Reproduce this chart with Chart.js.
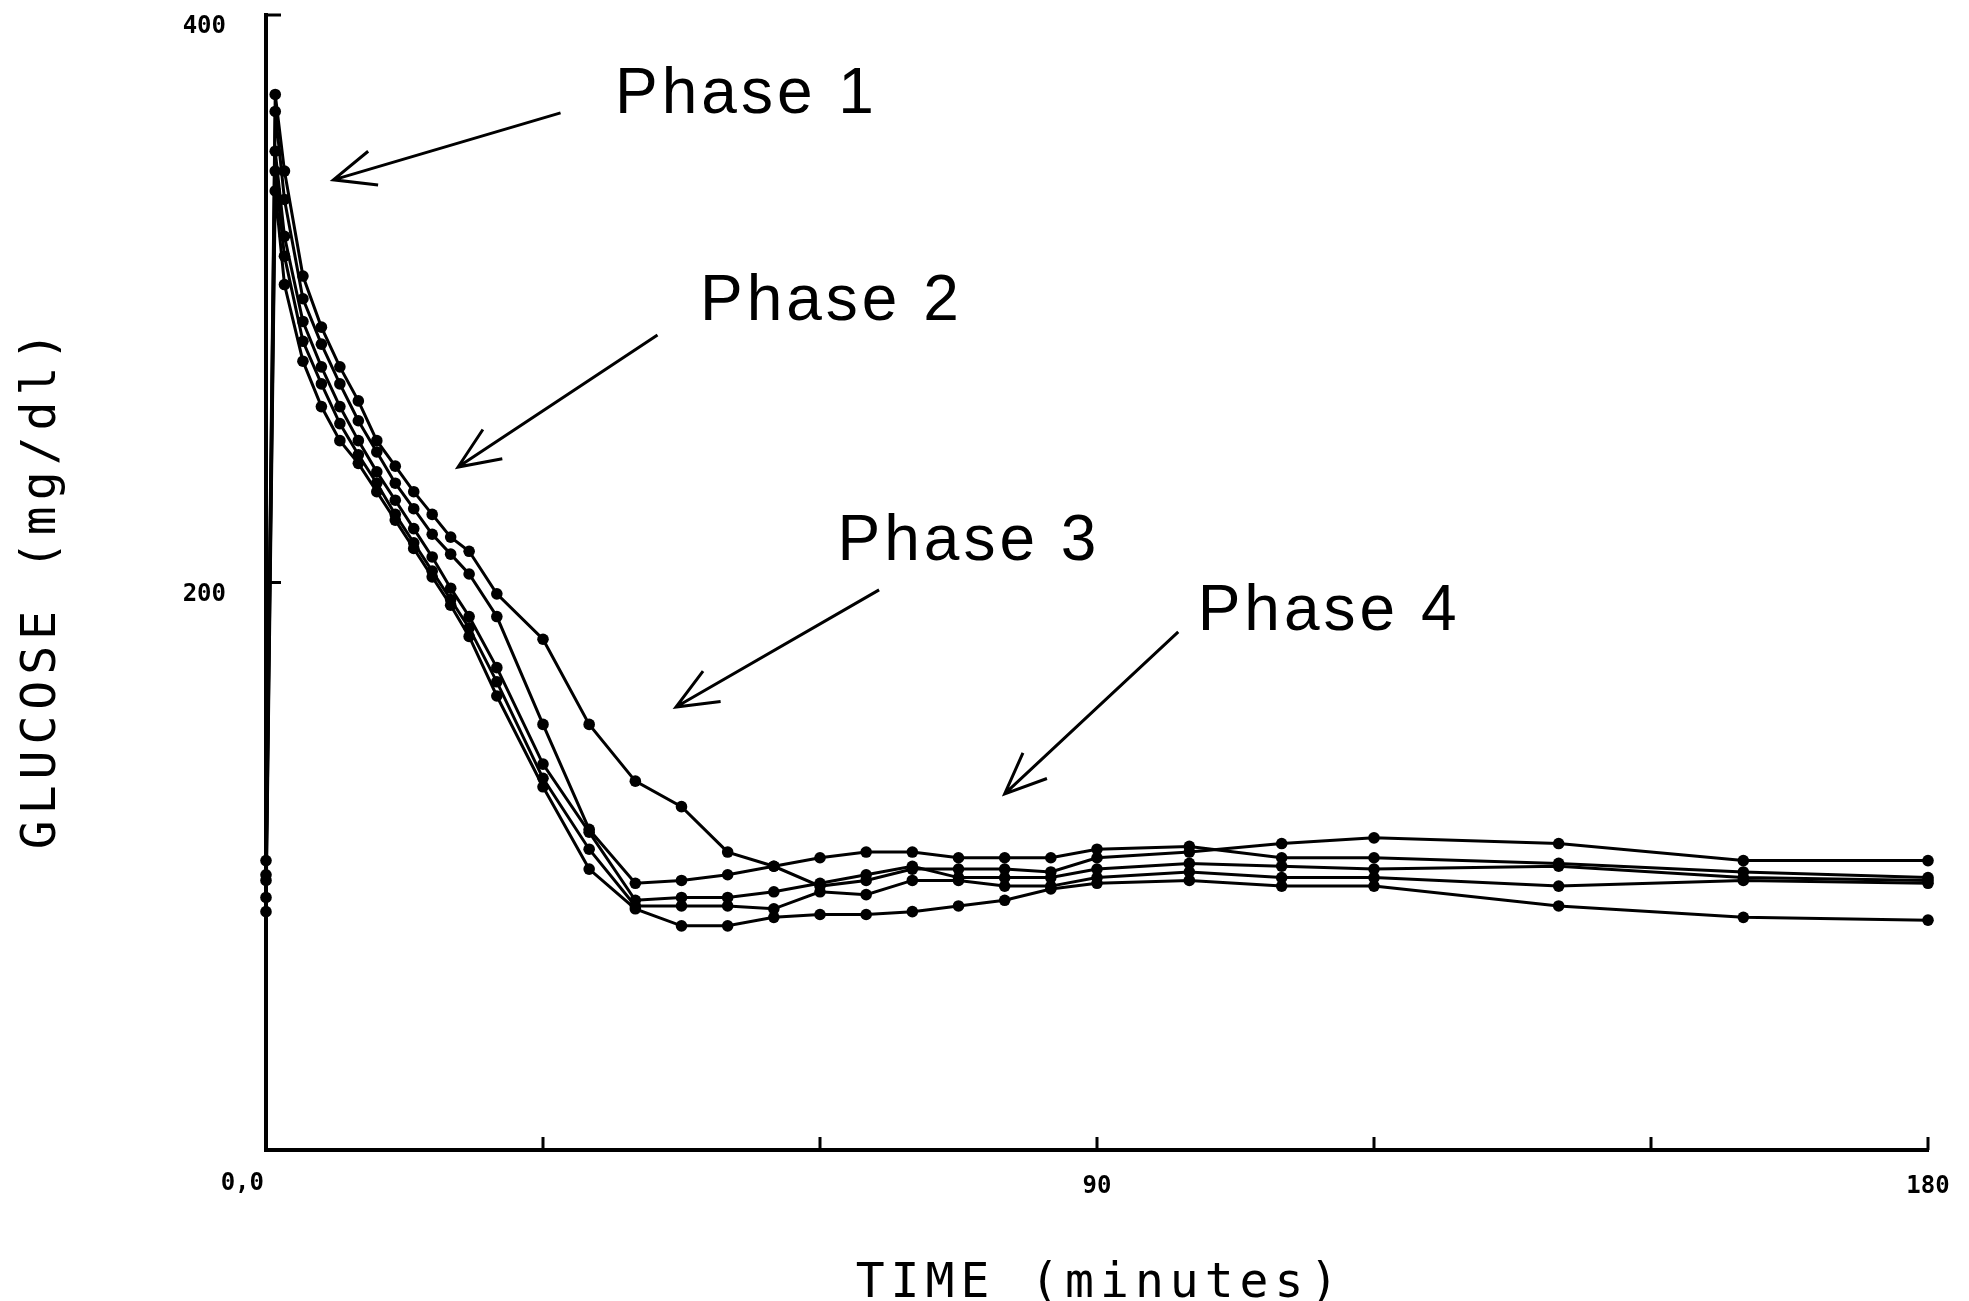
<!DOCTYPE html>
<html>
<head>
<meta charset="utf-8">
<title>Glucose phases</title>
<script src="https://cdn.jsdelivr.net/npm/chart.js@4.4.1/dist/chart.umd.min.js"></script>
<style>
    html, body { margin: 0; padding: 0; background: #fff; }
    #glucose-chart { display: block; }
</style>
</head>
<body>
<canvas id="glucose-chart" width="1969" height="1301"></canvas>
<script>
// sampling times (minutes)
const times = [0, 1, 2, 4, 6, 8, 10, 12, 14, 16, 18, 20, 22,
    25, 30, 35, 40, 45, 50, 55, 60, 65, 70, 75, 80, 85, 90,
    100, 110, 120, 140, 160, 180];

// glucose (mg/dl), one curve per run
const subject1 = [102, 372, 345, 308, 290, 276, 264, 250, 241, 232, 224, 216, 211,
    196, 180, 150, 130, 121, 105, 100, 93, 95, 99, 99, 99, 98, 103,
    105, 108, 110, 108, 102, 102];
const subject2 = [97, 366, 335, 300, 284, 270, 257, 246, 235, 226, 217, 210, 203,
    188, 150, 113, 94, 95, 97, 100, 103, 105, 105, 103, 103, 103, 106,
    107, 103, 103, 101, 98, 96];
const subject3 = [95, 352, 322, 292, 276, 262, 250, 239, 229, 219, 209, 198, 188,
    170, 136, 112, 88, 89, 89, 91, 94, 97, 100, 96, 96, 96, 99,
    101, 100, 99, 100, 96, 95];
const subject4 = [89, 345, 315, 285, 270, 256, 245, 235, 224, 214, 204, 194, 184,
    165, 131, 106, 86, 86, 86, 85, 91, 90, 95, 95, 93, 93, 96,
    98, 96, 96, 93, 95, 94];
const subject5 = [84, 338, 305, 278, 262, 250, 242, 232, 222, 212, 202, 192, 181,
    160, 128, 99, 85, 79, 79, 82, 83, 83, 84, 86, 88, 92, 94,
    95, 93, 93, 86, 82, 81];

// tick labels
const xLabelValues = [0, 90, 180];
const xLabelTexts = ['0,0', '90', '180'];
const yLabelValues = [200, 400];

const xTitle = 'TIME (minutes)';
const yTitle = 'GLUCOSE (mg/dl)';
const phaseLabels = ['Phase 1', 'Phase 2', 'Phase 3', 'Phase 4'];

// where each phase note sits, in data units (text corner, arrow tail, arrow tip)
const phaseSpots = [
    { text: [37.8, 365.5], tail: [31.9, 365.5], tip: [7.3, 341.9] },
    { text: [47.0, 292.5], tail: [42.4, 287.2], tip: [20.8, 240.7] },
    { text: [61.9, 207.9], tail: [66.4, 197.4], tip: [44.4, 156.1] },
    { text: [100.9, 183.3], tail: [98.8, 182.6], tip: [80.0, 125.5] }
];

const seriesList = [subject1, subject2, subject3, subject4, subject5];

function drawSpaced(ctx, text, x, y, spacing) {
    ctx.letterSpacing = spacing + 'px';
    ctx.fillText(text, x, y);
    ctx.letterSpacing = '0px';
}

//Inward ticks, axis titles and phase arrows
const plotterMarks = {
    id: 'plotterMarks',
    afterDraw(chart) {
        const { ctx, chartArea } = chart;
        const xs = chart.scales.x;
        const ys = chart.scales.y;
        ctx.save();
        ctx.strokeStyle = '#000';
        ctx.fillStyle = '#000';
        ctx.lineWidth = 3;
        ctx.lineCap = 'butt';

        xs.ticks.forEach(t => {
            if (t.value === 0) return;
            const px = xs.getPixelForValue(t.value);
            ctx.beginPath();
            ctx.moveTo(px, chartArea.bottom);
            ctx.lineTo(px, chartArea.bottom - 13);
            ctx.stroke();
        });
        yLabelValues.forEach(v => {
            const py = ys.getPixelForValue(v);
            ctx.beginPath();
            ctx.moveTo(chartArea.left, py);
            ctx.lineTo(chartArea.left + 15, py);
            ctx.stroke();
        });

        // the origin label sits left of the corner
        ctx.font = 'bold 24px "DejaVu Sans Mono"';
        ctx.textAlign = 'right';
        ctx.textBaseline = 'top';
        ctx.fillText(xLabelTexts[0], xs.getPixelForValue(xLabelValues[0]) - 2, chartArea.bottom + 22);

        // axis titles
        ctx.font = '48px "DejaVu Sans Mono"';
        ctx.textAlign = 'center';
        ctx.textBaseline = 'alphabetic';
        drawSpaced(ctx, xTitle, (chartArea.left + chartArea.right) / 2 + 3, chart.height - 4, 6);

        ctx.save();
        ctx.translate(55, (chartArea.top + chartArea.bottom) / 2 + 8);
        ctx.rotate(-Math.PI / 2);
        drawSpaced(ctx, yTitle, 3, 0, 6);
        ctx.restore();

        // phase notes
        ctx.font = '64px "Liberation Sans"';
        ctx.textAlign = 'left';
        phaseSpots.forEach((spot, i) => {
            const tx = xs.getPixelForValue(spot.text[0]);
            const ty = ys.getPixelForValue(spot.text[1]);
            drawSpaced(ctx, phaseLabels[i], tx, ty, 4);

            const ax = xs.getPixelForValue(spot.tail[0]);
            const ay = ys.getPixelForValue(spot.tail[1]);
            const bx = xs.getPixelForValue(spot.tip[0]);
            const by = ys.getPixelForValue(spot.tip[1]);
            const ang = Math.atan2(ay - by, ax - bx);
            const head = 45;
            const spread = 23 * Math.PI / 180;
            ctx.beginPath();
            ctx.moveTo(ax, ay);
            ctx.lineTo(bx, by);
            ctx.moveTo(bx + head * Math.cos(ang - spread), by + head * Math.sin(ang - spread));
            ctx.lineTo(bx, by);
            ctx.lineTo(bx + head * Math.cos(ang + spread), by + head * Math.sin(ang + spread));
            ctx.stroke();
        });
        ctx.restore();
    }
};

const ctx = document.getElementById('glucose-chart').getContext('2d');

const glucoseChart = new Chart(ctx, {
    type: 'scatter',
    data: {
        datasets: seriesList.map((vals, i) => ({
            label: 'Run ' + (i + 1),
            data: times.map((t, j) => ({ x: t, y: vals[j] })),
            showLine: true,
            borderColor: '#000',
            borderWidth: 3,
            backgroundColor: '#000',
            pointBackgroundColor: '#000',
            pointBorderColor: '#000',
            pointRadius: 5.8,
            pointBorderWidth: 0,
            tension: 0,
            clip: false
        }))
    },
    options: {
        responsive: false,
        animation: false,
        events: [],
        layout: { padding: { top: 15, right: 41, left: 0, bottom: 0 } },
        plugins: {
            legend: { display: false },
            tooltip: { enabled: false }
        },
        scales: {
            x: {
                type: 'linear',
                min: 0,
                max: 180,
                grid: { display: false, drawTicks: false },
                border: { display: true, color: '#000', width: 4 },
                ticks: {
                    stepSize: 30,
                    autoSkip: false,
                    maxRotation: 0,
                    padding: 22,
                    color: '#000',
                    font: { family: 'DejaVu Sans Mono', size: 24, weight: 'bold' },
                    callback: function(value) {
                        // 0 is written by the plugin, off-centre like the original
                        if (value === xLabelValues[0]) return '';
                        const k = xLabelValues.indexOf(value);
                        return k >= 0 ? xLabelTexts[k] : '';
                    }
                },
                afterFit: function(scale) {
                    scale.height = 151;
                    scale.paddingLeft = 0;
                    scale.paddingRight = 0;
                }
            },
            y: {
                min: 0,
                max: 400,
                grid: { display: false, drawTicks: false },
                border: { display: true, color: '#000', width: 4 },
                ticks: {
                    stepSize: 200,
                    padding: 40,
                    labelOffset: 12,
                    color: '#000',
                    font: { family: 'DejaVu Sans Mono', size: 24, weight: 'bold' },
                    callback: function(value) {
                        return yLabelValues.includes(value) ? String(value) : '';
                    }
                },
                afterFit: function(scale) {
                    scale.width = 266;
                    scale.paddingTop = 0;
                    scale.paddingBottom = 0;
                }
            }
        }
    },
    plugins: [plotterMarks]
});
</script>
</body>
</html>
